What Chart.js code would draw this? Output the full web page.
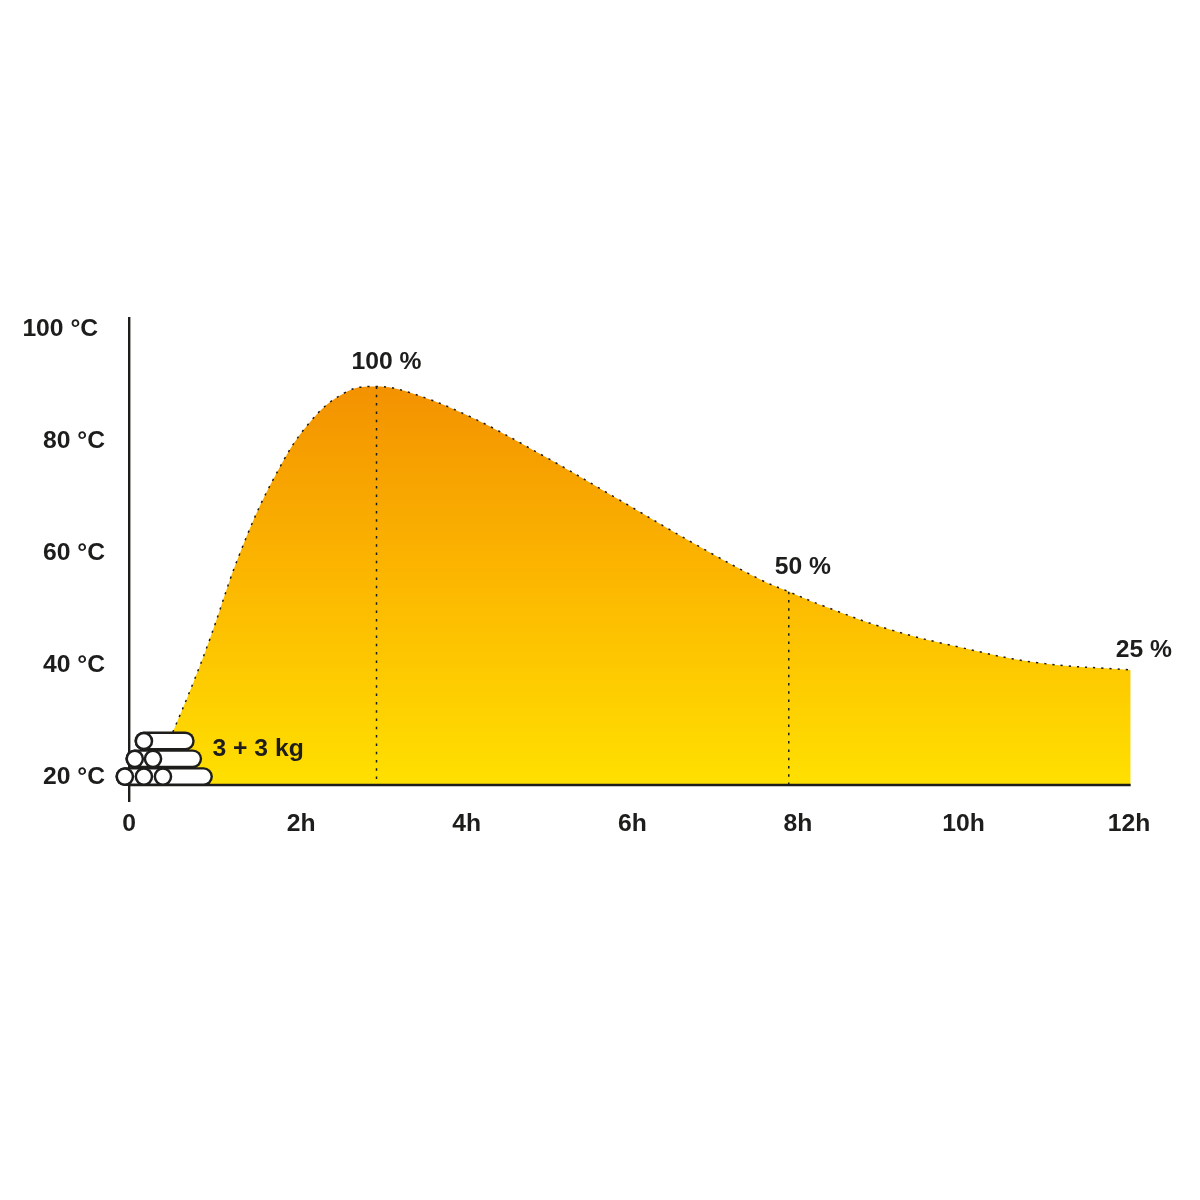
<!DOCTYPE html>
<html>
<head>
<meta charset="utf-8">
<title>Temperature curve</title>
<script src="https://cdn.jsdelivr.net/npm/chart.js@4/dist/chart.umd.min.js"></script>
<style>
  body { margin: 0; background: #fff; }
  canvas { display: block; }
</style>
</head>
<body>
<canvas id="curveChart" width="1200" height="1200"></canvas>
<script>
// Temperature curve (hours / degrees C)
const curveHours = [0.18, 0.46, 0.70, 0.90, 1.26, 1.67, 2.11, 2.55, 2.91, 3.30, 4.04, 4.93, 5.81, 6.74, 7.54, 7.89, 8.31, 9.11, 9.96, 10.89, 12.02];
const curveTemps = [18.57, 28.39, 36.98, 44.77, 59.95, 73.34, 83.45, 88.80, 89.73, 88.70, 84.34, 77.32, 69.77, 61.73, 55.30, 53.09, 50.54, 46.34, 43.16, 40.41, 39.11];

const baseTemp = 18.57;
const dropHours = [2.91, 7.89];
const dropTemps = [89.73, 53.09];

const xTickValues = [-0.08, 2, 4, 6, 8, 10, 12];
const xTickLabels = ["0", "2h", "4h", "6h", "8h", "10h", "12h"];
const yTickValues = [20, 40, 60, 80, 100];
const yTickLabels = ["20 °C", "40 °C", "60 °C", "80 °C", "100 °C "];

// Text notes on the plot
const noteTexts = ["100 %", "50 %", "25 %", "3 + 3 kg"];
const noteHours = [3.03, 8.06, 12.18, 1.48];
const noteTemps = [94.1, 57.5, 42.7, 25.0];

// Log pile: one entry per row
const logRowTemps = [20.07, 23.25, 26.43];
const logRowEnds = [0.82, 0.69, 0.6];
const logRowEyes = [[0.33, 0.10, -0.13], [0.21, -0.01], [0.10]];

const ink = "#1d1d1b";
const font = { family: "'Liberation Sans', Arial, sans-serif", size: 24.7, weight: "bold" };

function areaGradient(context) {
  const chart = context.chart;
  if (!chart.chartArea) return "#fc0";
  const y = chart.scales.y;
  const g = chart.ctx.createLinearGradient(0, y.getPixelForValue(89.7), 0, y.getPixelForValue(baseTemp));
  g.addColorStop(0, "#f39200");
  g.addColorStop(0.5, "#fcb800");
  g.addColorStop(1, "#ffe000");
  return g;
}

const datasets = [];

datasets.push({
  data: curveHours.map((h, i) => ({ x: h, y: curveTemps[i] })),
  showLine: true,
  pointRadius: 0,
  tension: 0.4,
  borderColor: ink,
  borderWidth: 1.5,
  borderDash: [2.2, 6],
  backgroundColor: areaGradient,
  fill: { value: baseTemp },
  order: 20,
});

dropHours.forEach((h, i) => {
  datasets.push({
    data: [{ x: h, y: dropTemps[i] }, { x: h, y: baseTemp }],
    showLine: true,
    pointRadius: 0,
    borderColor: ink,
    borderWidth: 1.5,
    borderDash: [2.5, 5.8],
    order: 19,
  });
});

// x axis line sits above the bottom of the plot
datasets.push({
  data: [{ x: xTickValues[0], y: baseTemp }, { x: curveHours[curveHours.length - 1], y: baseTemp }],
  showLine: true,
  pointRadius: 0,
  borderColor: ink,
  borderWidth: 2.4,
  order: 18,
});

logRowTemps.forEach((t, i) => {
  const eyes = logRowEyes[i];
  const row = [{ x: eyes[eyes.length - 1], y: t }, { x: logRowEnds[i], y: t }];
  datasets.push({ data: row, showLine: true, pointRadius: 0, borderColor: ink, borderWidth: 18.8, borderCapStyle: "round", clip: false, order: 12 });
  datasets.push({ data: row, showLine: true, pointRadius: 0, borderColor: "#fff", borderWidth: 14, borderCapStyle: "round", clip: false, order: 11 });
  datasets.push({
    // listed right to left so every point stays drawn, also left of the axis
    data: eyes.map((h) => ({ x: h, y: t })),
    showLine: false,
    pointRadius: 8.1,
    pointBorderWidth: 2.5,
    pointBorderColor: ink,
    pointBackgroundColor: "#fff",
    clip: false,
    order: 10,
  });
});

const notesPlugin = {
  id: "notes",
  afterDatasetsDraw(chart) {
    const c = chart.ctx;
    c.save();
    c.fillStyle = ink;
    c.font = font.weight + " " + font.size + "px " + font.family;
    c.textAlign = "center";
    c.textBaseline = "middle";
    noteTexts.forEach((t, i) => {
      c.fillText(t, chart.scales.x.getPixelForValue(noteHours[i]), chart.scales.y.getPixelForValue(noteTemps[i]));
    });
    c.restore();
  },
};

new Chart(document.getElementById("curveChart"), {
  type: "scatter",
  data: { datasets },
  plugins: [notesPlugin],
  options: {
    responsive: false,
    animation: false,
    events: [],
    layout: { padding: { top: 318, right: 69, left: 0, bottom: 0 } },
    plugins: { legend: { display: false }, tooltip: { enabled: false } },
    scales: {
      x: {
        type: "linear",
        min: -0.08,
        max: 12.024,
        grid: { display: false, drawTicks: false },
        border: { display: false },
        afterFit(s) { s.height = 399; },
        afterBuildTicks(s) { s.ticks = xTickValues.map((v) => ({ value: v })); },
        ticks: {
          autoSkip: false,
          maxRotation: 0,
          padding: 8.5,
          color: ink,
          font,
          callback: (v, i) => xTickLabels[i],
        },
      },
      y: {
        type: "linear",
        min: 15.714,
        max: 101.964,
        grid: { display: false, drawTicks: false },
        border: { color: ink, width: 2.4 },
        afterFit(s) { s.width = 129; },
        afterBuildTicks(s) { s.ticks = yTickValues.map((v) => ({ value: v })); },
        ticks: {
          autoSkip: false,
          padding: 24,
          color: ink,
          font,
          callback: (v, i) => yTickLabels[i],
        },
      },
    },
  },
});
</script>
</body>
</html>
